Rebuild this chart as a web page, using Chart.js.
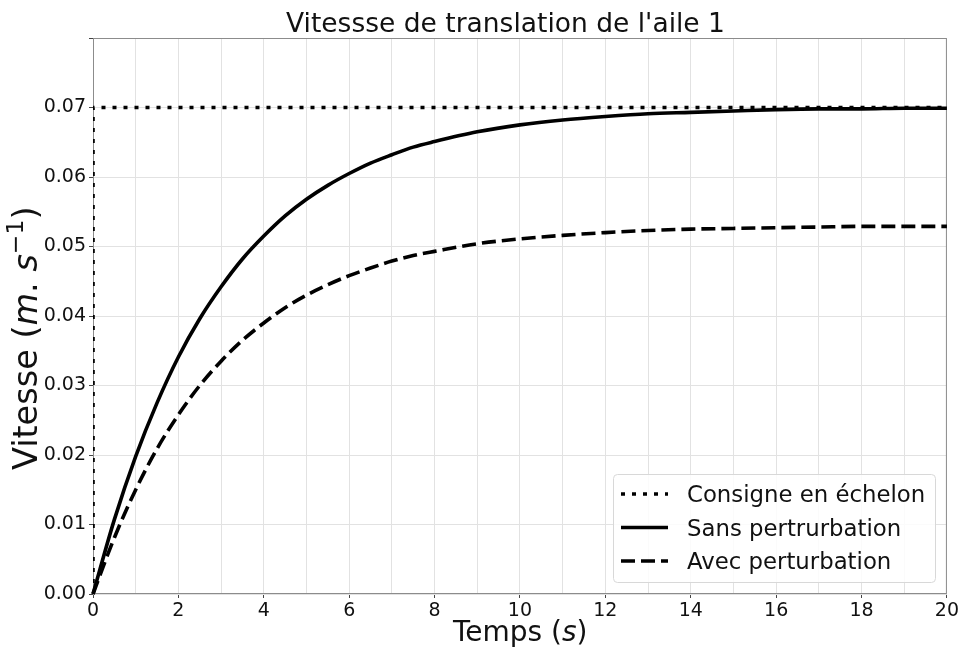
<!DOCTYPE html>
<html lang="fr">
<head>
  <meta charset="UTF-8">
  <title>Vitessse de translation de l'aile 1</title>
  <script src="https://cdn.jsdelivr.net/npm/chart.js"></script>
  <style>
    body { margin: 0; background: #ffffff; }
  </style>
</head>
<body>
  <canvas id="chartVitesse" width="961" height="648"></canvas>
  <script>
    // temps (s)
    const temps = [0, 0.5, 1, 1.5, 2, 2.5, 3, 3.5, 4, 4.5, 5, 5.5, 6, 6.5, 7, 7.5, 8, 9, 10, 11, 12, 13, 14, 15, 16, 17, 18, 19, 20];
    // vitesse sans perturbation (m/s)
    const sansPert = [0, 0.0107, 0.0198, 0.0275, 0.0341, 0.0396, 0.0442, 0.0482, 0.0515, 0.0544, 0.0568, 0.0588, 0.0605, 0.0620, 0.0632, 0.0643, 0.0651, 0.0665, 0.0675, 0.0682, 0.0687, 0.0691, 0.0693, 0.0695, 0.0697, 0.0698, 0.0698, 0.0699, 0.0699];
    // vitesse avec perturbation (m/s)
    const avecPert = [0, 0.0081, 0.0150, 0.0209, 0.0258, 0.0300, 0.0335, 0.0365, 0.0390, 0.0412, 0.0430, 0.0445, 0.0458, 0.0469, 0.0479, 0.0487, 0.0493, 0.0504, 0.0511, 0.0516, 0.0520, 0.0523, 0.0525, 0.0526, 0.0527, 0.0528, 0.0529, 0.0529, 0.0529];
    // consigne en echelon
    const consigneT = [0, 0, 20];
    const consigneV = [0, 0.07, 0.07];

    const legendLabels = ['Consigne en échelon', 'Sans pertrurbation', 'Avec perturbation'];

    const FONT = "'DejaVu Sans', sans-serif";
    const TXT = '#111';
    const DOT = [4, 7];
    const DASH = [14, 6];
    const LW = 3.6;

    const toPts = (xs, ys) => xs.map((x, i) => ({ x: x, y: ys[i] }));

    // spines + titres + legende dessines a la main
    const decorPlugin = {
      id: 'decor',
      beforeDatasetsDraw(chart) {
        const { ctx, chartArea: a } = chart;
        ctx.save();
        ctx.strokeStyle = '#8c8c8c';
        ctx.lineWidth = 1;
        ctx.strokeRect(a.left + 0.5, a.top + 0.5, a.right - a.left - 1, a.bottom - a.top - 1);
        ctx.restore();
      },
      afterDraw(chart) {
        const ctx = chart.ctx;
        ctx.save();
        ctx.fillStyle = TXT;

        // titre
        ctx.font = '26.5px ' + FONT;
        ctx.textBaseline = 'alphabetic';
        ctx.textAlign = 'left';
        ctx.fillText("Vitessse de translation de l'aile 1", 286, 32);

        // titre axe x
        let x = 453;
        const partsX = [['Temps (', ''], ['s', 'italic '], [')', '']];
        partsX.forEach(p => {
          ctx.font = p[1] + '28px ' + FONT;
          ctx.fillText(p[0], x, 641);
          x += ctx.measureText(p[0]).width;
        });

        // titre axe y
        ctx.save();
        ctx.translate(37, 470);
        ctx.rotate(-Math.PI / 2);
        x = 0;
        const partsY = [['Vitesse (', '', 33.5, 0], ['m', 'italic ', 33.5, 0], ['. ', '', 33.5, 0], ['s', 'italic ', 33.5, 0], ['−1', '', 23.5, -14], [')', '', 33.5, 0]];
        partsY.forEach(p => {
          ctx.font = p[1] + p[2] + 'px ' + FONT;
          ctx.fillText(p[0], x, p[3]);
          x += ctx.measureText(p[0]).width;
        });
        ctx.restore();

        // legende
        const bx = 613, by = 474, bw = 322, bh = 108;
        ctx.beginPath();
        ctx.roundRect(bx + 0.5, by + 0.5, bw, bh, 4);
        ctx.fillStyle = 'rgba(255,255,255,0.85)';
        ctx.fill();
        ctx.strokeStyle = '#d8d8d8';
        ctx.lineWidth = 1;
        ctx.stroke();

        const rowsY = [494, 527.5, 561];
        const dashes = [DOT, [], DASH];
        rowsY.forEach((ry, i) => {
          ctx.beginPath();
          ctx.setLineDash(dashes[i]);
          ctx.lineWidth = LW;
          ctx.lineCap = 'butt';
          ctx.strokeStyle = '#000';
          ctx.moveTo(621, ry);
          ctx.lineTo(668, ry);
          ctx.stroke();
          ctx.setLineDash([]);
          ctx.fillStyle = TXT;
          ctx.font = '22.8px ' + FONT;
          ctx.fillText(legendLabels[i], 687, ry + 8);
        });
        ctx.restore();
      }
    };

    const ctxV = document.getElementById('chartVitesse');
    const DataVitesse = {
      type: 'line',
      data: {
        datasets: [{
          label: legendLabels[0],
          data: toPts(consigneT, consigneV),
          borderColor: '#000',
          borderWidth: LW,
          borderDash: DOT,
          borderCapStyle: 'butt',
          tension: 0
        }, {
          label: legendLabels[1],
          data: toPts(temps, sansPert),
          borderColor: '#000',
          borderWidth: LW,
          cubicInterpolationMode: 'monotone',
          clip: false
        }, {
          label: legendLabels[2],
          data: toPts(temps, avecPert),
          borderColor: '#000',
          borderWidth: LW,
          borderDash: DASH,
          borderCapStyle: 'butt',
          cubicInterpolationMode: 'monotone',
          clip: false
        }]
      },
      options: {
        responsive: false,
        animation: false,
        layout: {
          padding: { top: 38, right: 14, left: 0, bottom: 0 }
        },
        elements: {
          point: { radius: 0 }
        },
        scales: {
          x: {
            type: 'linear',
            min: 0,
            max: 20,
            afterFit(scale) { scale.height = 54; },
            border: { display: false },
            grid: {
              color: '#e2e2e2',
              lineWidth: 1,
              tickLength: 4,
              tickColor: (c) => (c.tick && c.tick.value % 2 === 0) ? '#444' : 'rgba(0,0,0,0)'
            },
            ticks: {
              stepSize: 1,
              autoSkip: false,
              maxRotation: 0,
              padding: 2,
              color: TXT,
              font: { family: FONT, size: 19 },
              callback: (v) => v % 2 === 0 ? v : ''
            }
          },
          y: {
            min: 0,
            max: 0.08,
            afterFit(scale) { scale.width = 93; },
            border: { display: false },
            grid: {
              color: '#e2e2e2',
              lineWidth: 1,
              tickLength: 4,
              tickColor: '#444'
            },
            ticks: {
              stepSize: 0.01,
              padding: 3,
              color: TXT,
              font: { family: FONT, size: 19 },
              callback: (v) => v > 0.0795 ? '' : v.toFixed(2)
            }
          }
        },
        plugins: {
          legend: { display: false },
          tooltip: { enabled: false }
        }
      },
      plugins: [decorPlugin]
    };
    const vitesseChart = new Chart(ctxV, DataVitesse);
  </script>
</body>
</html>
